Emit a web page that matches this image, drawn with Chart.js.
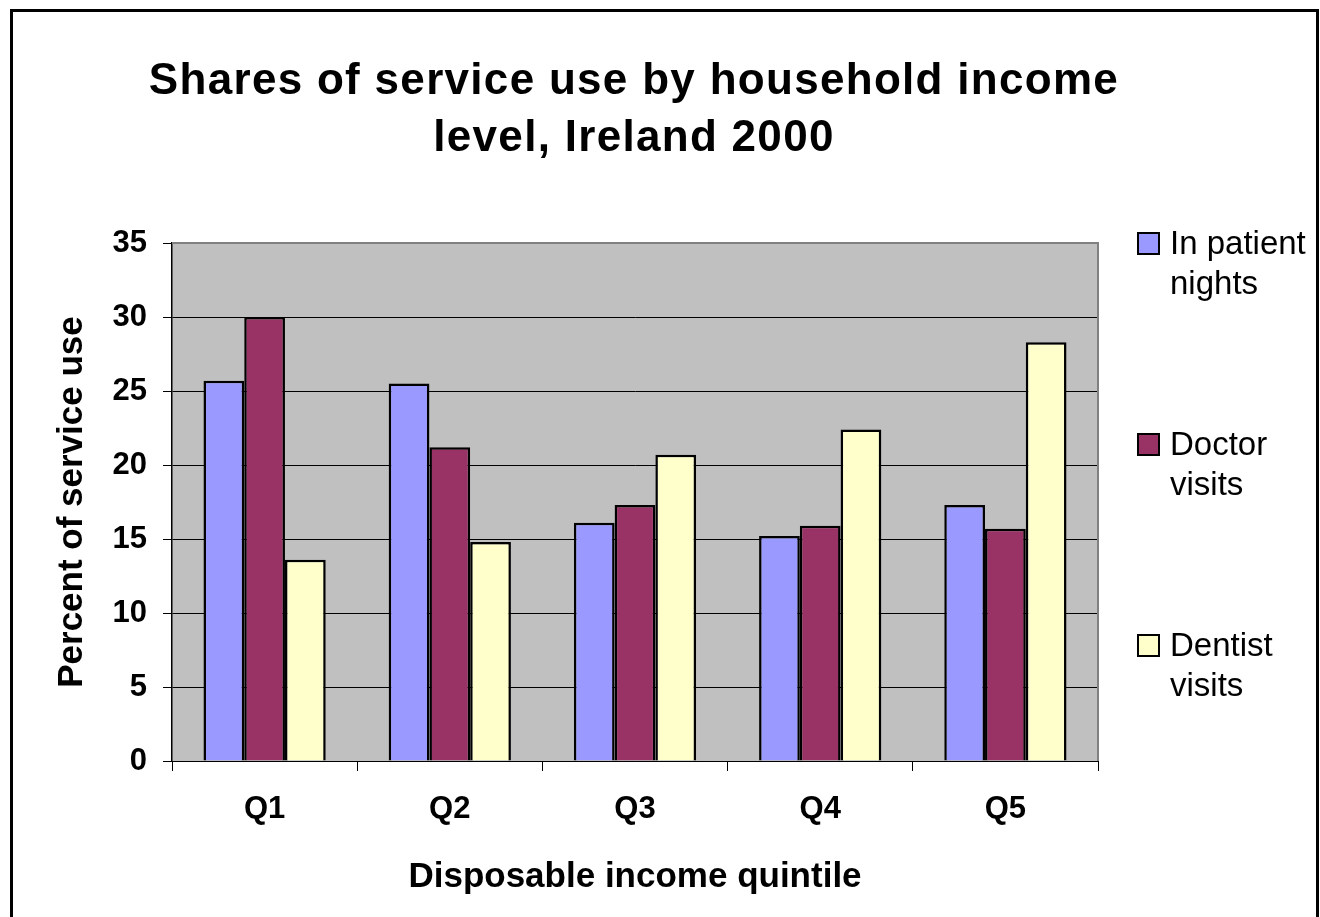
<!DOCTYPE html>
<html>
<head>
<meta charset="utf-8">
<script src="https://cdn.jsdelivr.net/npm/chart.js@4.4.1/dist/chart.umd.min.js"></script>
<style>
  html, body { margin: 0; padding: 0; background: #fff; }
  #wrap { position: relative; width: 1320px; height: 917px; overflow: hidden; }
  #frame { position: absolute; left: 10px; top: 9px; width: 1303px; height: 940px; border: 3px solid #000; }
  #chart { position: absolute; left: 0; top: 0; }
  #title { position: absolute; left: 0; top: 50px; width: 1268px; text-align: center; font-family: "Liberation Sans", Arial, sans-serif; font-weight: bold; font-size: 44px; line-height: 57px; letter-spacing: 1.3px; color: #000; }
  #legend { position: absolute; left: 1137px; top: 223px; font-family: "Liberation Sans", Arial, sans-serif; font-size: 33px; line-height: 40px; color: #000; }
  .item { position: absolute; left: 0; width: 183px; }
  .box { position: absolute; left: 0; top: 9px; width: 23px; height: 23px; border: 2px solid #000; box-sizing: border-box; }
  .txt { position: absolute; left: 33px; top: 0; width: 150px; }
</style>
</head>
<body>
<div id="wrap">
  <div id="frame"></div>
  <canvas id="chart" width="1320" height="917"></canvas>
  <div id="title">Shares of service use by household income<br>level, Ireland 2000</div>
  <div id="legend"></div>
</div>
<script>
const quintiles = ['Q1', 'Q2', 'Q3', 'Q4', 'Q5'];
const inPatientNights = [25.7, 25.5, 16.1, 15.2, 17.3];
const doctorVisits = [30.0, 21.2, 17.3, 15.9, 15.7];
const dentistVisits = [13.6, 14.8, 20.7, 22.4, 28.3];
const seriesNames = ['In patient nights', 'Doctor visits', 'Dentist visits'];
const seriesColors = ['#9999FF', '#993366', '#FFFFCC'];

const fontFam = '"Liberation Sans", Arial, sans-serif';

// gray plot background + gray top/right border
const plotBg = {
  id: 'plotBg',
  beforeDraw(chart) {
    const { ctx, chartArea: a } = chart;
    ctx.save();
    ctx.fillStyle = '#C0C0C0';
    ctx.fillRect(a.left, a.top, a.right - a.left, a.bottom - a.top);
    ctx.restore();
  },
  afterDraw(chart) {
    const { ctx, chartArea: a } = chart;
    ctx.save();
    ctx.strokeStyle = '#808080';
    ctx.lineWidth = 2;
    ctx.beginPath();
    ctx.moveTo(a.left, a.top);
    ctx.lineTo(a.right, a.top);
    ctx.lineTo(a.right, a.bottom);
    ctx.stroke();
    ctx.restore();
  }
};

const chart = new Chart(document.getElementById('chart'), {
  type: 'bar',
  data: {
    labels: quintiles,
    datasets: [inPatientNights, doctorVisits, dentistVisits].map((d, i) => ({
      label: seriesNames[i],
      data: d,
      backgroundColor: seriesColors[i],
      borderColor: '#000',
      borderWidth: 2.5,
      categoryPercentage: 0.66,
      barPercentage: 1
    }))
  },
  options: {
    responsive: false,
    animation: false,
    layout: { padding: { left: 20, right: 222, top: 243, bottom: 0 } },
    plugins: {
      legend: { display: false },
      tooltip: { enabled: false },
      title: { display: false }
    },
    scales: {
      x: {
        afterFit(s) { s.height = 156; },
        grid: { drawOnChartArea: false, drawTicks: true, tickLength: 10, color: '#000', offset: true },
        border: { color: '#000', width: 1 },
        ticks: { color: '#000', padding: 20, font: { family: fontFam, size: 31, weight: 'bold' } },
        title: {
          display: true,
          text: 'Disposable income quintile',
          color: '#000',
          padding: { top: 0, bottom: 19 },
          font: { family: fontFam, size: 35, weight: 'bold' }
        }
      },
      y: {
        min: 0,
        max: 35,
        afterFit(s) { s.width = 152; },
        grid: { color: '#000', lineWidth: 1, tickLength: 9 },
        border: { color: '#000', width: 1.5 },
        ticks: { stepSize: 5, color: '#000', padding: 16, font: { family: fontFam, size: 31, weight: 'bold' } },
        title: {
          display: true,
          text: 'Percent of service use',
          color: '#000',
          padding: { top: 31, bottom: 0 },
          font: { family: fontFam, size: 35, weight: 'bold' }
        }
      }
    }
  },
  plugins: [plotBg]
});

// legend as html, built from the chart datasets
const legendEl = document.getElementById('legend');
chart.data.datasets.forEach((ds, i) => {
  const item = document.createElement('div');
  item.className = 'item';
  item.style.top = (i * 201) + 'px';
  item.innerHTML = '<div class="box" style="background:' + ds.backgroundColor + '"></div><div class="txt">' + ds.label + '</div>';
  legendEl.appendChild(item);
});
</script>
</body>
</html>
